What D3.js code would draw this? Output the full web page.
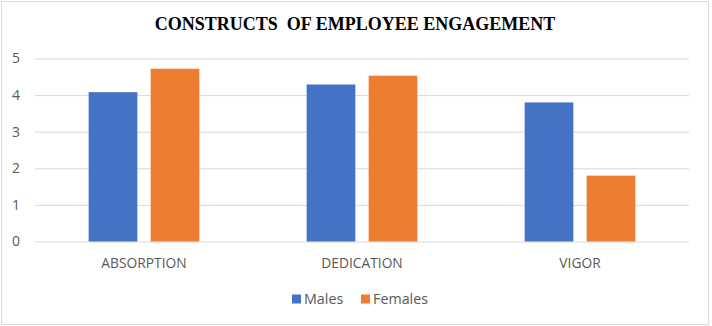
<!DOCTYPE html>
<html>
<head>
<meta charset="utf-8">
<script src="https://cdn.jsdelivr.net/npm/d3@7"></script>
<style>
  html, body { margin: 0; padding: 0; background: #fff; }
  svg { display: block; }
</style>
</head>
<body>
<script>
const categories = ["ABSORPTION", "DEDICATION", "VIGOR"];
const seriesNames = ["Males", "Females"];
const males = [4.08, 4.29, 3.8];
const females = [4.72, 4.53, 1.8];
const yTicks = [0, 1, 2, 3, 4, 5];
const colors = ["#4472C4", "#ED7D31"];
const title = "CONSTRUCTS  OF EMPLOYEE ENGAGEMENT";

const W = 712, H = 326;
const plot = { left: 35, right: 689, top: 58.5, bottom: 241.5 };

const svg = d3.select("body").append("svg").attr("width", W).attr("height", H);

svg.append("rect").attr("x", 1.5).attr("y", 1.5).attr("width", 707).attr("height", 323)
  .attr("fill", "#fff").attr("stroke", "#d9d9d9").attr("stroke-width", 1);

svg.append("text").attr("x", 355).attr("y", 30)
  .attr("text-anchor", "middle")
  .style("font-family", "'Liberation Serif', 'Times New Roman', serif")
  .style("font-weight", "bold").style("font-size", "18px")
  .style("white-space", "pre").attr("xml:space", "preserve")
  .attr("fill", "#000").text(title);

const y = d3.scaleLinear().domain([0, 5]).range([plot.bottom, plot.top]);
const x0 = d3.scaleBand().domain(categories).range([plot.left, plot.right]).padding(0);
const groupW = 110.7;
const x1 = d3.scaleBand().domain(seriesNames)
  .range([(x0.bandwidth() - groupW) / 2, (x0.bandwidth() + groupW) / 2])
  .paddingInner(0.2145).paddingOuter(0);

const font = "'Open Sans', 'Liberation Sans', sans-serif";
const textColor = "#595959";

// gridlines + y tick labels
const yAxis = d3.axisLeft(y).tickValues(yTicks).tickSize(-(plot.right - plot.left)).tickPadding(15).tickFormat(d3.format("d"));
const gy = svg.append("g").attr("transform", `translate(${plot.left},0)`).call(yAxis);
gy.select(".domain").remove();
gy.selectAll(".tick line").attr("stroke", "#d9d9d9").attr("stroke-width", 1);
gy.selectAll(".tick text").attr("fill", textColor).style("font-family", font).style("font-size", "14px");

// bars
const data = categories.map((c, i) => ({ cat: c, vals: [males[i], females[i]] }));
const groups = svg.append("g").selectAll("g").data(data).join("g")
  .attr("transform", d => `translate(${x0(d.cat)},0)`);
groups.selectAll("rect").data(d => d.vals.map((v, j) => ({ s: seriesNames[j], v, j })))
  .join("rect")
  .attr("x", d => x1(d.s)).attr("width", x1.bandwidth())
  .attr("y", d => y(d.v)).attr("height", d => y(0) - y(d.v))
  .attr("fill", d => colors[d.j]);

// category labels
const xAxis = d3.axisBottom(x0).tickSize(0).tickPadding(17);
const gx = svg.append("g").attr("transform", `translate(0,${plot.bottom})`).call(xAxis);
gx.select(".domain").remove();
gx.selectAll(".tick text").attr("fill", textColor).style("font-family", font).style("font-size", "13.8px");

// legend
const legendItems = [{ name: "Males", x: 292 }, { name: "Females", x: 361 }];
const lg = svg.append("g");
seriesNames.forEach((n, i) => {
  const lx = legendItems[i].x;
  lg.append("rect").attr("x", lx).attr("y", 294.5).attr("width", 9).attr("height", 9).attr("fill", colors[i]);
  lg.append("text").attr("x", lx + 12).attr("y", 304).attr("fill", textColor)
    .style("font-family", font).style("font-size", "14.3px").text(n);
});
</script>
</body>
</html>
